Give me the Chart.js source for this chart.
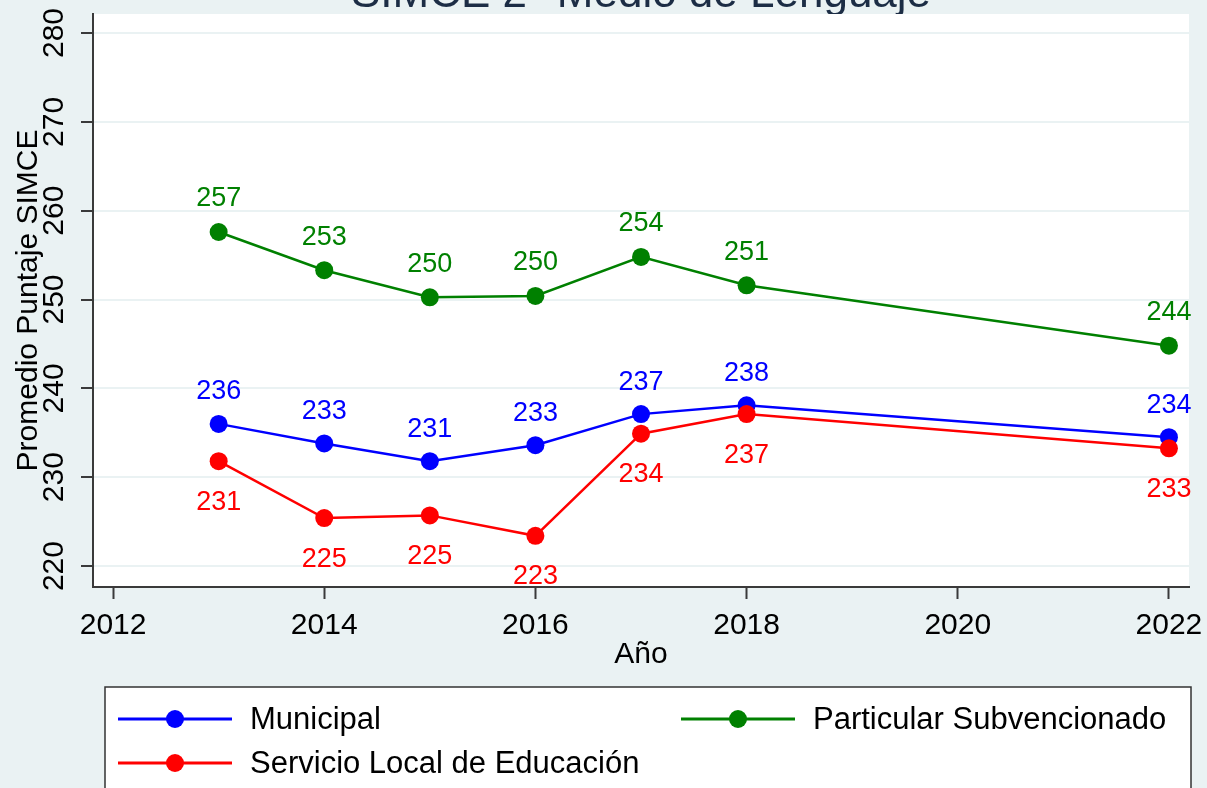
<!DOCTYPE html>
<html><head><meta charset="utf-8">
<script src="https://cdn.jsdelivr.net/npm/chart.js@4.4.1/dist/chart.umd.min.js"></script>
<style>html,body{margin:0;padding:0;background:#EAF2F3;overflow:hidden}canvas{display:block}</style>
</head><body>
<canvas id="c" width="1207" height="788"></canvas>
<script>
const chartTitle = 'SIMCE 2° Medio de Lenguaje';
const years = [2013, 2014, 2015, 2016, 2017, 2018, 2022];
const seriesNames = ['Municipal', 'Particular Subvencionado', 'Servicio Local de Educación'];
const municipal = [236.0, 233.8, 231.8, 233.6, 237.1, 238.1, 234.5];
const particularSubv = [257.6, 253.3, 250.25, 250.4, 254.8, 251.6, 244.8];
const servicioLocal = [231.8, 225.4, 225.7, 223.4, 234.9, 237.1, 233.25];
const xTickValues = [2012, 2014, 2016, 2018, 2020, 2022];
const yTickValues = [220, 230, 240, 250, 260, 270, 280];
const xTitle = 'Año';
const yTitle = 'Promedio Puntaje SIMCE';

const FONT = '"Liberation Sans", Arial, sans-serif';
const AXIS = '#3a3a3a';

const bgPlugin = {
  id: 'bg',
  beforeDraw(chart) {
    const {ctx, chartArea: a} = chart;
    ctx.save();
    ctx.fillStyle = '#EAF2F3';
    ctx.fillRect(0, 0, chart.width, chart.height);
    ctx.font = '44px ' + FONT;
    ctx.fillStyle = '#1c2d45';
    ctx.textAlign = 'center';
    ctx.textBaseline = 'alphabetic';
    ctx.fillText(chartTitle, (a.left + a.right) / 2, 7);
    ctx.fillStyle = '#FFFFFF';
    ctx.fillRect(a.left, a.top, a.right - a.left, a.bottom - a.top);
    ctx.restore();
  }
};

const labelPlugin = {
  id: 'pointLabels',
  afterDatasetsDraw(chart) {
    const ctx = chart.ctx;
    ctx.save();
    ctx.font = '27px ' + FONT;
    ctx.textAlign = 'center';
    ctx.textBaseline = 'middle';
    chart.data.datasets.forEach((ds, i) => {
      const meta = chart.getDatasetMeta(i);
      ctx.fillStyle = ds.borderColor;
      meta.data.forEach((el, j) => {
        ctx.fillText(String(Math.floor(ds.data[j].y)), el.x, el.y + ds.labelOffset);
      });
    });
    ctx.restore();
  }
};

const legendPlugin = {
  id: 'boxLegend',
  afterDraw(chart) {
    const ctx = chart.ctx;
    ctx.save();
    ctx.fillStyle = '#FFFFFF';
    ctx.fillRect(105, 687, 1086, 130);
    ctx.strokeStyle = '#333333';
    ctx.lineWidth = 1.5;
    ctx.strokeRect(105, 687, 1086, 130);
    const slots = [[118, 719], [681, 719], [118, 763]];
    ctx.font = '31px ' + FONT;
    ctx.textBaseline = 'middle';
    ctx.textAlign = 'left';
    chart.data.datasets.forEach((ds, i) => {
      const [x, y] = slots[i];
      ctx.strokeStyle = ds.borderColor;
      ctx.lineWidth = 3;
      ctx.beginPath(); ctx.moveTo(x, y); ctx.lineTo(x + 114, y); ctx.stroke();
      ctx.fillStyle = ds.borderColor;
      ctx.beginPath(); ctx.arc(x + 57, y, 9, 0, 2 * Math.PI); ctx.fill();
      ctx.fillStyle = '#000000';
      ctx.fillText(ds.label, x + 132, y + 1);
    });
    ctx.restore();
  }
};

const mk = (name, vals, color, off, order) => ({
  label: name,
  data: years.map((yr, i) => ({x: yr, y: vals[i]})),
  borderColor: color, backgroundColor: color,
  pointBackgroundColor: color, pointBorderColor: color,
  borderWidth: 2.5, pointRadius: 9, pointHoverRadius: 9, pointBorderWidth: 0,
  tension: 0, labelOffset: off, order: order
});

new Chart(document.getElementById('c'), {
  type: 'line',
  data: {
    datasets: [
      mk(seriesNames[0], municipal, '#0000FF', -32, 2),
      mk(seriesNames[1], particularSubv, '#008000', -33, 1),
      mk(seriesNames[2], servicioLocal, '#FF0000', 41, 0)
    ]
  },
  options: {
    responsive: false,
    animation: false,
    events: [],
    layout: {padding: {top: 14, right: 18, bottom: 115, left: 0}},
    plugins: {legend: {display: false}, tooltip: {enabled: false}, title: {display: false}},
    scales: {
      x: {
        type: 'linear', min: 2011.81, max: 2022.19,
        afterBuildTicks: s => { s.ticks = xTickValues.map(v => ({value: v})); },
        afterFit: s => { s.height = 86; s.paddingLeft = 0; s.paddingRight = 0; },
        ticks: {font: {family: FONT, size: 30}, color: '#000', padding: 9, maxRotation: 0, autoSkip: false, callback: v => String(v)},
        grid: {drawOnChartArea: false, drawTicks: true, tickLength: 12, tickColor: AXIS, tickWidth: 2},
        border: {display: true, color: AXIS, width: 2},
        title: {display: true, text: xTitle, font: {family: FONT, size: 30}, color: '#000', padding: {top: 0, bottom: 0}}
      },
      y: {
        type: 'linear', min: 217.64, max: 282.14,
        afterBuildTicks: s => { s.ticks = yTickValues.map(v => ({value: v})); },
        afterFit: s => { s.width = 93; s.paddingTop = 0; s.paddingBottom = 0; },
        ticks: {font: {family: FONT, size: 30}, color: '#000', padding: 1, minRotation: 90, maxRotation: 90, crossAlign: 'center', autoSkip: false, callback: v => String(v)},
        grid: {color: '#EAF2F3', lineWidth: 2, tickLength: 12, tickColor: AXIS, tickWidth: 2},
        border: {display: true, color: AXIS, width: 2},
        title: {display: true, text: yTitle, font: {family: FONT, size: 30}, color: '#000', padding: {top: 11, bottom: 0}}
      }
    }
  },
  plugins: [bgPlugin, labelPlugin, legendPlugin]
});
</script>
</body></html>
